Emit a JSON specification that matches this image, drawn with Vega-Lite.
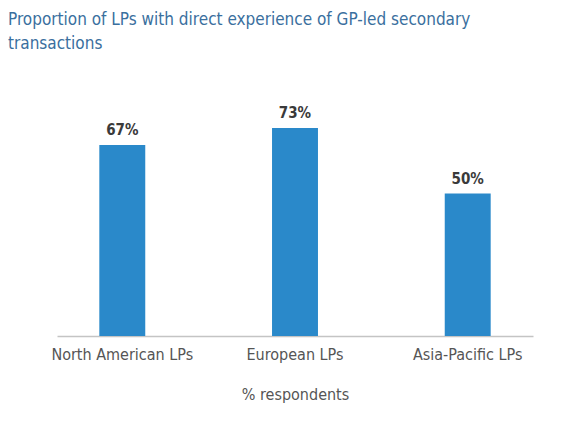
{
  "$schema": "https://vega.github.io/schema/vega-lite/v6.json",
  "autosize": "none",
  "width": 476,
  "height": 228,
  "padding": {"left": 57, "top": 108, "right": 33, "bottom": 101},
  "background": "white",
  "title": {
    "text": ["Proportion of LPs with direct experience of GP-led secondary", "transactions"],
    "anchor": "start",
    "frame": "group",
    "dx": -49,
    "offset": 53,
    "font": "Liberation Sans Narrow, DejaVu Sans Condensed, Roboto",
    "fontSize": 17,
    "fontWeight": "normal",
    "lineHeight": 24,
    "color": "#3A6F9E"
  },
  "data": {
    "values": [
      {"group": "North American LPs", "share": 0.67},
      {"group": "European LPs", "share": 0.73},
      {"group": "Asia-Pacific LPs", "share": 0.50}
    ]
  },
  "encoding": {
    "x": {
      "field": "group",
      "type": "nominal",
      "sort": null,
      "scale": {"paddingInner": 0.734, "paddingOuter": 0.245},
      "axis": {
        "title": "% respondents",
        "labelAngle": 0,
        "ticks": false,
        "domainColor": "#c4c4c4",
        "domainWidth": 1.5,
        "labelFont": "Liberation Sans Narrow, DejaVu Sans Condensed, Roboto",
        "labelFontSize": 16,
        "labelColor": "#555555",
        "labelPadding": 10,
        "titleFont": "Liberation Sans Narrow, DejaVu Sans Condensed, Roboto",
        "titleFontSize": 16,
        "titleFontWeight": "normal",
        "titleColor": "#555555",
        "titlePadding": 24
      }
    },
    "y": {
      "field": "share",
      "type": "quantitative",
      "scale": {"domain": [0, 0.8]},
      "axis": null
    }
  },
  "layer": [
    {"mark": {"type": "bar", "color": "#2A89CA"}},
    {
      "mark": {
        "type": "text",
        "baseline": "alphabetic",
        "dy": -10,
        "font": "Liberation Sans Narrow, DejaVu Sans Condensed, Roboto",
        "fontSize": 15,
        "fontWeight": "bold",
        "color": "#3a3a3a"
      },
      "encoding": {
        "text": {"field": "share", "type": "quantitative", "format": ".0%"}
      }
    }
  ],
  "config": {"view": {"stroke": null}, "axis": {"grid": false}}
}
